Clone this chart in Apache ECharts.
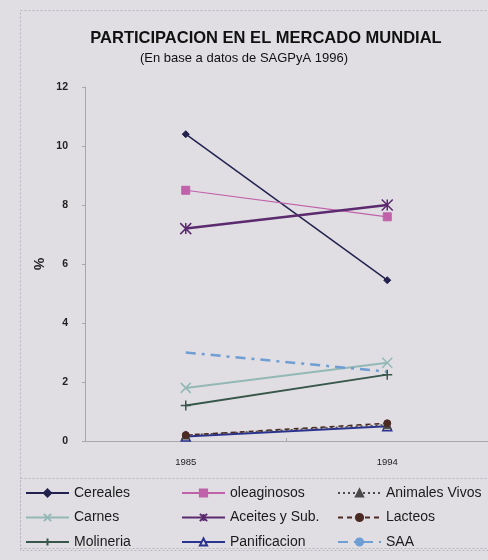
<!DOCTYPE html>
<html>
<head>
<meta charset="utf-8">
<script src="https://cdn.jsdelivr.net/npm/echarts@6/dist/echarts.min.js"></script>
<style>
  html, body { margin: 0; padding: 0; background: #e0dee3; }
  #chart { width: 488px; height: 560px; }
</style>
</head>
<body>
<div id="chart"></div>
<script>
// Market share (%) by product group, 1985 vs 1994
const years = ['1985', '1994'];
const cereales = [10.4, 5.45];
const oleaginosos = [8.5, 7.6];
const animalesVivos = [0.2, 0.55];
const carnes = [1.8, 2.65];
const aceitesSub = [7.2, 8.0];
const lacteos = [0.2, 0.6];
const molineria = [1.2, 2.25];
const panificacion = [0.15, 0.5];
const saa = [3.0, 2.35];
const yTicks = [0, 2, 4, 6, 8, 10, 12];

function line(name, data, color, symbol, opts) {
  opts = opts || {};
  return {
    name: name,
    type: 'line',
    data: data,
    symbol: symbol,
    symbolSize: opts.size || 7,
    showSymbol: symbol !== 'none',
    lineStyle: { color: color, width: opts.width || 1.5, type: opts.dash || 'solid' },
    itemStyle: { color: opts.fill || color, borderColor: color, borderWidth: opts.bw || 1 },
    z: opts.z || 2
  };
}

const chart = echarts.init(document.getElementById('chart'), null, { renderer: 'canvas' });
const legendText = { fontFamily: 'Liberation Sans, Arial', fontSize: 14, color: '#1a1a1a' };
const legendBase = { orient: 'vertical', itemWidth: 43, itemHeight: 9, itemGap: 10.5, textStyle: legendText, padding: 0 };

chart.setOption({
  backgroundColor: '#e0dee3',
  animation: false,
  title: [
    { text: 'PARTICIPACION EN EL MERCADO MUNDIAL', left: 261, top: 25, textAlign: 'center',
      textStyle: { fontFamily: 'Liberation Sans, Arial', fontSize: 16.5, fontWeight: 'bold', color: '#111' } },
    { text: '(En base a datos de SAGPyA 1996)', left: 239, top: 47, textAlign: 'center',
      textStyle: { fontFamily: 'Liberation Sans, Arial', fontSize: 13, fontWeight: 'normal', color: '#111' } }
  ],
  grid: { left: 85, right: -11, top: 87, bottom: 119, containLabel: false },
  xAxis: {
    type: 'category',
    data: years,
    boundaryGap: true,
    axisLine: { lineStyle: { color: '#a8a6ac', width: 1 } },
    axisTick: { show: true, inside: true, length: 3, lineStyle: { color: '#a8a6ac' } },
    axisLabel: { color: '#222', fontFamily: 'Liberation Sans, Arial', fontSize: 9.5, margin: 16 },
    splitLine: { show: false }
  },
  yAxis: {
    type: 'value',
    min: yTicks[0],
    max: yTicks[yTicks.length - 1],
    interval: 2,
    name: '%',
    nameLocation: 'middle',
    nameGap: 40,
    nameRotate: -90,
    nameTextStyle: { fontFamily: 'Liberation Sans, Arial', fontSize: 14, fontWeight: 'bold', color: '#222' },
    axisLine: { show: true, lineStyle: { color: '#a8a6ac', width: 1 } },
    axisTick: { show: true, length: 3, lineStyle: { color: '#a8a6ac' } },
    axisLabel: { color: '#222', fontFamily: 'Liberation Sans, Arial', fontSize: 10.5, fontWeight: 'bold', margin: 17 },
    splitLine: { show: false }
  },
  legend: [
    Object.assign({}, legendBase, { left: 25, top: 486, data: ['Cereales', 'Carnes', 'Molineria'] }),
    Object.assign({}, legendBase, { left: 181, top: 486, data: ['oleaginosos', 'Aceites y Sub.', 'Panificacion'] }),
    Object.assign({}, legendBase, { left: 337, top: 486, data: ['Animales Vivos', 'Lacteos', 'SAA'] })
  ],
  graphic: [
    { type: 'rect', shape: { x: 20.5, y: 10.5, width: 480, height: 540 }, silent: true,
      style: { fill: 'none', stroke: '#b9b7bd', lineWidth: 1, lineDash: [2, 2] } },
    { type: 'rect', shape: { x: 20.5, y: 478.5, width: 480, height: 70 }, silent: true,
      style: { fill: 'none', stroke: '#b9b7bd', lineWidth: 1, lineDash: [2, 2] } }
  ],
  series: [
    line('Cereales', cereales, '#22224f', 'diamond', { size: 7 }),
    line('Carnes', carnes, '#93b8b6', 'path://M0,0L10,10M10,0L0,10', { size: 10, width: 2, bw: 1.5, fill: 'none' }),
    line('Molineria', molineria, '#37574a', 'path://M5,0L5,10M0,5L10,5', { size: 10, width: 2, bw: 1.5, fill: 'none' }),
    line('oleaginosos', oleaginosos, '#c061a9', 'rect', { size: 8, width: 1.2 }),
    line('Aceites y Sub.', aceitesSub, '#5b2a6f', 'path://M0,0L10,10M10,0L0,10M5,0L5,10', { size: 11, width: 2.5, bw: 1.5, fill: 'none' }),
    line('Panificacion', panificacion, '#2a3390', 'triangle', { size: 9, width: 2, fill: '#e0dee3', bw: 1.5 }),
    line('Animales Vivos', animalesVivos, '#4a4a4a', 'triangle', { size: 8, width: 1.5, dash: [2, 3] }),
    line('Lacteos', lacteos, '#4a2a22', 'circle', { size: 7, width: 1.5, dash: [5, 4] }),
    line('SAA', saa, '#6e9ed3', 'none', { width: 2.5, dash: [10, 6, 3, 6] })
  ]
});
</script>
</body>
</html>
